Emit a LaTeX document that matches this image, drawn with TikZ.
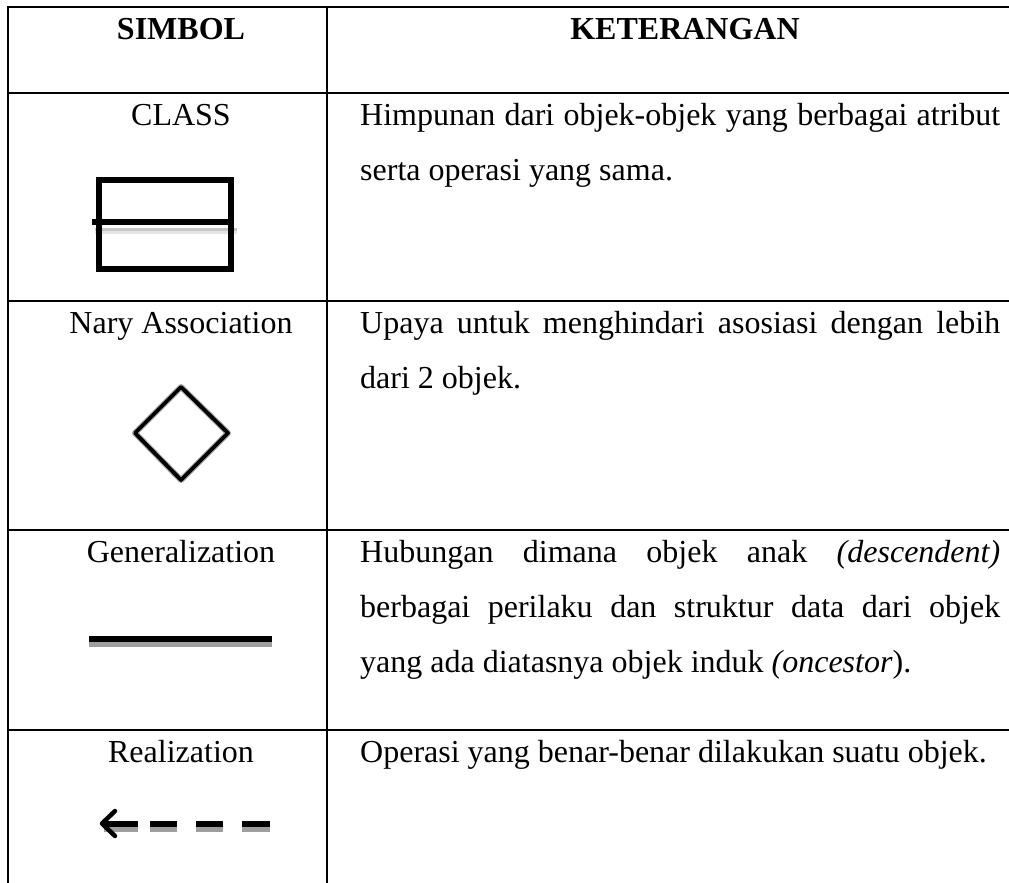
\documentclass[tikz,border=0pt]{standalone}
\usepackage{fontspec}
\setmainfont{Liberation Serif}
\begin{document}
\begin{tikzpicture}[x=1pt,y=-1pt,
  rule/.style={line width=2.2pt,line cap=rect},
  body/.style={inner sep=0pt,font=\fontsize{32}{55}\selectfont},
  headtext/.style={body,font=\fontsize{32}{55}\selectfont\bfseries,anchor=base},
  symname/.style={body,anchor=base},
  desc/.style={body,anchor=base west,text width=640pt,align=justify},
  heavy/.style={line width=6pt,black},
  shade/.style={line width=5pt,black!38}]
\useasboundingbox (0,0) rectangle (1009,883);

% table rules
\draw[rule] (8,7) -- (1009,7);
\draw[rule] (8,7) -- (8,883);
\draw[rule] (327,7) -- (327,883);
\foreach \y in {93,301,530,730}
  \draw[rule] (8,\y) -- (1009,\y);

% header
\node[headtext] (h1) at (181,40) {SIMBOL};
\node[headtext] (h2) at (685,40) {KETERANGAN};

% row 1: class
\node[symname] (n1) at (181,125) {CLASS};
\node[desc] (d1) at (360,125) {Himpunan dari objek-objek yang berbagai atribut\linebreak serta operasi yang sama.};
\draw[line width=3pt,black!22] (95,229) -- (237,229);
\draw[line width=3pt,black!10] (95,232) -- (237,232);
\draw[line width=6pt] (99,180) rectangle (231,269);
\draw[line width=5.5pt] (92,222) -- (228,222);

% row 2: n-ary association
\node[symname] (n2) at (181,333) {Nary Association};
\node[desc] (d2) at (360,333) {Upaya untuk menghindari asosiasi dengan lebih\linebreak dari 2 objek.};
\draw[line width=6pt,black!35,line join=round] (181,387) -- (228,433) -- (181,480) -- (135,433) -- cycle;
\draw[line width=3.8pt,line join=round] (181,387) -- (228,433) -- (181,480) -- (135,433) -- cycle;

% row 3: generalization
\node[symname] (n3) at (181,562) {Generalization};
\node[desc] (d3) at (360,562) {Hubungan dimana objek anak \textit{(descendent)}\linebreak berbagai perilaku dan struktur data dari objek\linebreak yang ada diatasnya objek induk \textit{(oncestor}).};
\draw[shade] (89,644.5) -- (272,644.5);
\draw[heavy] (89,639) -- (272,639);

% row 4: realization
\node[symname] (n4) at (181,762) {Realization};
\node[desc] (d4) at (360,762) {Operasi yang benar-benar dilakukan suatu objek.};
\foreach \a/\b in {104/138,150/177,196/223,242/270}{
  \draw[shade] (\a,829) -- (\b,829);
  \draw[heavy] (\a,823.5) -- (\b,823.5);
}
\draw[line width=4.5pt,line cap=round,line join=round] (115,811) -- (102,823.5) -- (115,836);
\end{tikzpicture}
\end{document}
